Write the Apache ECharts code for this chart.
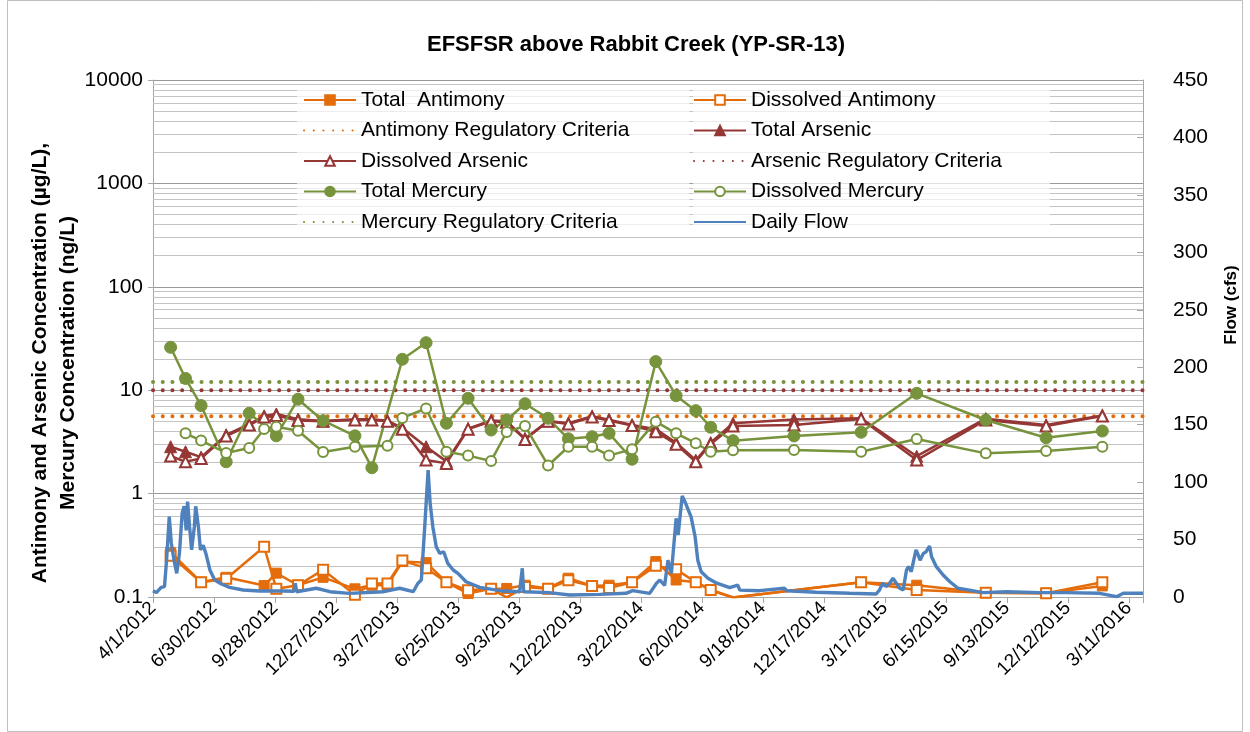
<!DOCTYPE html>
<html><head><meta charset="utf-8">
<script src="https://cdn.jsdelivr.net/npm/echarts@6/dist/echarts.min.js"></script>
<style>html,body{margin:0;padding:0;background:#fff}#c{width:1250px;height:732px}</style>
</head><body><div id="c"></div>
<script>
// ---- data ----
const sampleDates = ['2012-04-27','2012-05-19','2012-06-11','2012-07-18','2012-08-21','2012-09-12','2012-09-30','2012-11-01','2012-12-08','2013-01-24','2013-02-18','2013-03-13','2013-04-04','2013-05-09','2013-06-08','2013-07-10','2013-08-13','2013-09-05','2013-10-02','2013-11-05','2013-12-05','2014-01-09','2014-02-03','2014-03-09','2014-04-13','2014-05-13','2014-06-11','2014-07-03','2014-08-05','2014-11-03','2015-02-10','2015-05-03','2015-08-13','2015-11-10','2016-02-01'];
const totalAntimony = [0.27,null,0.139,0.155,null,0.129,0.17,0.13,0.155,0.12,0.13,0.13,0.22,0.215,0.139,0.108,0.12,0.121,0.13,0.121,0.152,0.128,0.13,0.139,0.22,0.146,0.139,0.117,0.099,null,0.139,0.13,0.11,0.109,0.128];
const dissolvedAntimony = [0.25,null,0.139,0.15,null,0.306,0.12,0.13,0.183,0.105,0.135,0.135,0.225,0.19,0.139,0.116,0.12,0.099,0.125,0.12,0.145,0.128,0.122,0.139,0.2,0.185,0.139,0.117,0.099,null,0.139,0.117,0.11,0.109,0.139];
const totalArsenic = [2.84,2.54,2.25,3.7,4.7,5.63,5.89,5.23,5.04,5.23,5.23,5.07,4.3,2.84,2.05,4.24,5.09,5.0,3.4,5.04,4.8,5.59,5.18,4.6,4.2,3.1,2.1,3.1,4.8,5.2,5.35,2.3,5.3,4.6,5.7];
const dissolvedArsenic = [2.31,2.03,2.19,3.6,4.6,5.5,5.7,5.1,5.0,5.15,5.15,5.0,4.2,2.11,1.96,4.2,5.0,4.9,3.34,5.0,4.71,5.5,5.1,4.56,3.97,3.0,2.03,3.02,4.5,4.6,5.27,2.11,5.15,4.5,5.63];
const totalMercury = [26.0,13.0,7.1,2.03,5.98,null,3.62,8.18,5.07,3.62,1.78,null,19.9,28.8,4.79,8.35,4.12,5.15,7.40,5.35,3.39,3.55,3.83,2.15,18.9,8.85,6.34,4.38,3.25,3.61,3.92,9.33,5.15,3.47,4.03];
const dissolvedMercury = [null,3.83,3.26,2.47,2.76,4.22,4.44,4.06,2.53,2.84,null,2.91,5.39,6.65,2.54,2.33,2.07,3.94,4.51,1.87,2.84,2.84,2.33,2.69,4.96,3.83,3.07,2.54,2.62,2.64,2.54,3.37,2.45,2.58,2.84];
const antimonyCriteria = 5.6;
const arsenicCriteria = 10;
const mercuryCriteria = 12;
const flowDates = ['2012-04-01','2012-04-06','2012-04-13','2012-04-18','2012-04-21','2012-04-25','2012-04-28','2012-05-02','2012-05-06','2012-05-10','2012-05-14','2012-05-17','2012-05-20','2012-05-22','2012-05-25','2012-05-28','2012-06-01','2012-06-03','2012-06-07','2012-06-10','2012-06-14','2012-06-18','2012-06-24','2012-07-01','2012-07-11','2012-07-23','2012-08-12','2012-09-05','2012-10-10','2012-10-26','2012-10-28','2012-10-30','2012-11-28','2012-12-18','2013-01-16','2013-03-06','2013-03-31','2013-04-20','2013-04-27','2013-05-02','2013-05-07','2013-05-12','2013-05-15','2013-05-19','2013-05-24','2013-05-29','2013-06-04','2013-06-10','2013-06-18','2013-06-25','2013-07-07','2013-07-27','2013-08-26','2013-09-24','2013-09-28','2013-09-30','2013-11-07','2013-12-07','2014-01-20','2014-02-28','2014-03-10','2014-04-04','2014-04-14','2014-04-19','2014-04-26','2014-05-01','2014-05-06','2014-05-13','2014-05-16','2014-05-22','2014-05-26','2014-05-31','2014-06-04','2014-06-10','2014-06-14','2014-06-19','2014-06-29','2014-07-12','2014-07-31','2014-08-12','2014-08-15','2014-09-13','2014-10-20','2014-10-23','2014-12-06','2015-01-24','2015-03-04','2015-03-09','2015-03-14','2015-03-19','2015-03-24','2015-03-29','2015-04-03','2015-04-08','2015-04-13','2015-04-18','2015-04-21','2015-04-25','2015-05-02','2015-05-05','2015-05-08','2015-05-13','2015-05-17','2015-05-22','2015-05-25','2015-06-01','2015-06-11','2015-06-21','2015-07-03','2015-07-20','2015-08-09','2015-09-13','2015-10-31','2015-12-10','2016-01-28','2016-02-22','2016-03-03','2016-04-01'];
const flowCfs = [5.5,3.8,8.4,9,32,70,47,32,20.6,38,73,79,58,83,61,41,61,79,61,41,45,38,23.5,14.8,11.3,8.4,6.1,5.2,5.2,5.0,12,4.6,7.6,4.6,3.2,4.6,7.6,4.6,12,14.8,61,110.5,81.5,61,43.8,38,39.4,29.3,23.5,20.6,13.3,8.4,5.5,4.6,25,4.6,3.8,1.7,2.3,3.2,5.5,3.2,12,14.8,10,32,20.6,68.5,54,88,83,75.7,70,52.5,32,22,16.3,12,8.1,10.4,6,5.5,7.6,5.5,4.1,3.2,2.6,6,12,9,12,16.3,12,7.6,6,23.5,26.4,22,41,37,32,38,39.4,44.4,35,26.4,19.1,13.3,7.6,6,3.8,4.6,3.8,3.8,3.2,0.3,3.2,3.2];
const xTickLabels = ['4/1/2012','6/30/2012','9/28/2012','12/27/2012','3/27/2013','6/25/2013','9/23/2013','12/22/2013','3/22/2014','6/20/2014','9/18/2014','12/17/2014','3/17/2015','6/15/2015','9/13/2015','12/12/2015','3/11/2016'];
const axisStart = '2012-04-01';
const axisEnd = '2016-04-01';

// ---- helpers ----
function dayOffset(s){const p=s.split('-').map(Number);const a=axisStart.split('-').map(Number);
  return Math.round((Date.UTC(p[0],p[1]-1,p[2])-Date.UTC(a[0],a[1]-1,a[2]))/86400000);}
function pts(vals){const out=[];sampleDates.forEach((d,i)=>{if(vals[i]!=null)out.push([dayOffset(d),vals[i]]);});return out;}
const xMax = dayOffset(axisEnd);
const FONT = 'Liberation Sans';
const C_SB='#E46C0A', C_AS='#953735', C_HG='#77933C', C_FL='#4F81BD';
const minorGrid=[];[0.1,1,10,100,1000].forEach(b=>{for(let k=2;k<=9;k++)minorGrid.push(+(b*k).toPrecision(3));});

function dataLine(name,vals,color,symbol,size){
  const empty=symbol.indexOf('empty')===0;
  return {name,type:'line',data:pts(vals),symbol,symbolSize:size,showAllSymbol:true,
    lineStyle:{color,width:2.5},
    itemStyle:{color,borderColor:color,borderWidth:empty?2.2:1},z:3};
}
function critLine(name,val,color){
  return {name,type:'line',data:[[0,val],[xMax,val]],symbol:'none',
    lineStyle:{color,width:4,type:[0.1,9.6],cap:'round'},itemStyle:{color},z:2};
}
const noSym={itemStyle:{opacity:0}};
const legendCommon={orient:'vertical',top:86,itemWidth:52,itemHeight:12,itemGap:8.5,
  backgroundColor:'rgba(255,255,255,0.7)',
  textStyle:{fontFamily:FONT,fontSize:21,color:'#000',lineHeight:22}};

const chart=echarts.init(document.getElementById('c'),null,{renderer:'canvas'});
chart.setOption({
  animation:false,
  backgroundColor:'#fff',
  title:{text:'EFSFSR above Rabbit Creek (YP-SR-13)',left:631,top:29,textAlign:'center',
    textStyle:{fontFamily:FONT,fontSize:22,fontWeight:'bold',color:'#000'}},
  grid:{left:153,right:107,top:80,bottom:135,containLabel:false},
  legend:[
    Object.assign({},legendCommon,{left:297,padding:[3,60,4,6],
      data:['Total  Antimony',Object.assign({name:'Antimony Regulatory Criteria'},noSym),'Dissolved Arsenic','Total Mercury',Object.assign({name:'Mercury Regulatory Criteria'},noSym)]}),
    Object.assign({},legendCommon,{left:693,padding:[3,48,4,0],
      data:['Dissolved Antimony','Total Arsenic',Object.assign({name:'Arsenic Regulatory Criteria'},noSym),'Dissolved Mercury',Object.assign({name:'Daily Flow'},noSym)]})
  ],
  xAxis:{type:'value',min:0,max:xMax,interval:90,
    axisLine:{lineStyle:{color:'#a6a6a6',width:1}},
    axisTick:{show:true,length:6,lineStyle:{color:'#a6a6a6'}},
    splitLine:{show:false},
    axisLabel:{rotate:45,fontFamily:FONT,fontSize:19,color:'#000',margin:8,
      formatter:v=>(v%90===0?(xTickLabels[v/90]||''):'')}},
  yAxis:[
    {type:'log',logBase:10,min:0.1,max:10000,
     axisLine:{show:true,lineStyle:{color:'#a6a6a6'}},
     axisTick:{show:true,length:5,lineStyle:{color:'#a6a6a6'}},
     axisLabel:{fontFamily:FONT,fontSize:21,color:'#000',margin:10,formatter:v=>String(+v.toPrecision(3))},
     splitLine:{show:true,lineStyle:{color:'#9a9a9a',width:1.2}}},
    {type:'value',min:0,max:450,interval:50,position:'right',
     axisLine:{show:true,lineStyle:{color:'#a6a6a6'}},
     axisTick:{show:true,inside:true,length:6,lineStyle:{color:'#a6a6a6'}},
     axisLabel:{fontFamily:FONT,fontSize:21,color:'#000',margin:30},
     splitLine:{show:false}}
  ],
  series:[
    {name:'_minor',type:'line',data:[],yAxisIndex:0,z:1,silent:true,
     markLine:{z:1,silent:true,symbol:'none',animation:false,label:{show:false},
       lineStyle:{color:'#c4c4c4',width:1,type:'solid'},emphasis:{disabled:true},
       data:minorGrid.map(v=>({yAxis:v}))}},
    critLine('Antimony Regulatory Criteria',antimonyCriteria,C_SB),
    critLine('Arsenic Regulatory Criteria',arsenicCriteria,C_AS),
    critLine('Mercury Regulatory Criteria',mercuryCriteria,C_HG),
    dataLine('Total  Antimony',totalAntimony,C_SB,'rect',10),
    dataLine('Dissolved Antimony',dissolvedAntimony,C_SB,'emptyRect',10),
    dataLine('Total Arsenic',totalArsenic,C_AS,'triangle',12),
    dataLine('Dissolved Arsenic',dissolvedArsenic,C_AS,'emptyTriangle',11),
    dataLine('Total Mercury',totalMercury,C_HG,'circle',12),
    dataLine('Dissolved Mercury',dissolvedMercury,C_HG,'emptyCircle',10),
    {name:'Daily Flow',type:'line',yAxisIndex:1,symbol:'none',
     data:flowDates.map((d,i)=>[dayOffset(d),flowCfs[i]]),
     lineStyle:{color:C_FL,width:3.4},itemStyle:{color:C_FL},z:4}
  ],
  graphic:[
    {type:'text',x:54,y:363,rotation:Math.PI/2,z:10,
     style:{text:'Antimony and Arsenic Concentration (µg/L),\nMercury Concentration (ng/L)',
       font:'bold 21px "Liberation Sans"',fill:'#000',align:'center',verticalAlign:'middle',lineHeight:28}},
    {type:'text',x:1231,y:305,rotation:Math.PI/2,z:10,
     style:{text:'Flow (cfs)',font:'bold 17px "Liberation Sans"',fill:'#000',align:'center',verticalAlign:'middle'}},
    {type:'rect',shape:{x:7.5,y:0.5,width:1235,height:731},z:-1,silent:true,
     style:{fill:null,stroke:'#bfbfbf',lineWidth:1}}
  ]
});
</script></body></html>
